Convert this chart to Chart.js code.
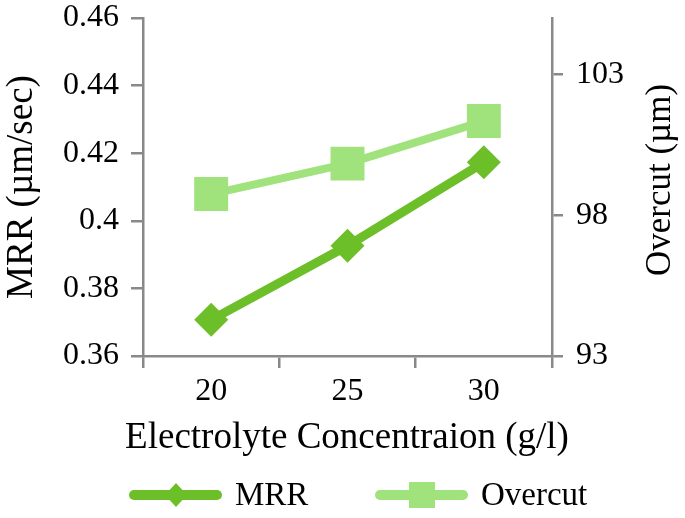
<!DOCTYPE html>
<html>
<head>
<meta charset="utf-8">
<script src="https://cdn.jsdelivr.net/npm/chart.js@4.4.0/dist/chart.umd.min.js"></script>
<style>
  html, body { margin: 0; padding: 0; background: #fff; }
  #wrap { width: 685px; height: 518px; }
</style>
</head>
<body>
<div id="wrap"><canvas id="myChart" width="685" height="518"></canvas></div>
<script>
// data
const concentration = ['20', '25', '30'];
const mrr = [0.3707, 0.3926, 0.4173];
const overcut = [98.75, 99.83, 101.34];
const mrrTicks = [0.36, 0.38, 0.40, 0.42, 0.44, 0.46];
const overcutTicks = [93, 98, 103];

const serif = '"Liberation Serif", "Times New Roman", serif';
const axisColor = '#898989';
const mrrColor = '#6cbf29';
const overcutColor = '#a0e27b';

// legend drawn by hand: line + marker + label, like the original.
// x title and right title also drawn here: the x title is wider than the
// plot area (Chart.js would squeeze it) and the right one reads bottom-to-top
const lineLegend = {
  id: 'lineLegend',
  afterDraw(chart) {
    const ctx = chart.ctx;
    const y = 495;
    const starts = [129, 375];
    chart.data.datasets.forEach((ds, i) => {
      const x0 = starts[i];
      const cx = x0 + 47;
      ctx.save();
      ctx.strokeStyle = ds.borderColor;
      ctx.lineWidth = 10;
      ctx.lineCap = 'round';
      ctx.beginPath();
      ctx.moveTo(x0 + 5, y);
      ctx.lineTo(x0 + 88, y);
      ctx.stroke();

      ctx.fillStyle = ds.pointBackgroundColor;
      ctx.beginPath();
      if (ds.pointStyle === 'rectRot') {
        ctx.moveTo(cx - 11, y);
        ctx.lineTo(cx, y - 12);
        ctx.lineTo(cx + 11, y);
        ctx.lineTo(cx, y + 12);
        ctx.closePath();
      } else {
        ctx.rect(cx - 13, y - 13, 26, 26);
      }
      ctx.fill();

      ctx.fillStyle = '#000';
      ctx.font = '33px ' + serif;
      ctx.textBaseline = 'middle';
      ctx.fillText(ds.label, x0 + 106, y + 1);
      ctx.restore();
    });

    ctx.save();
    ctx.fillStyle = '#000';
    ctx.textAlign = 'center';
    ctx.textBaseline = 'middle';
    ctx.font = '37px ' + serif;
    ctx.fillText('Electrolyte Concentraion (g/l)', 347, 438);
    ctx.translate(661, 180);
    ctx.rotate(-Math.PI / 2);
    ctx.font = '35px ' + serif;
    ctx.fillText('Overcut (µm)', 0, 0);
    ctx.restore();
  }
};

const noPad = scale => {
  scale.paddingTop = 0;
  scale.paddingBottom = 0;
  scale.paddingLeft = 0;
  scale.paddingRight = 0;
};

const ctx = document.getElementById('myChart').getContext('2d');
new Chart(ctx, {
  type: 'line',
  data: {
    labels: concentration,
    datasets: [
      {
        label: 'MRR',
        data: mrr,
        yAxisID: 'y',
        borderColor: mrrColor,
        backgroundColor: mrrColor,
        pointBackgroundColor: mrrColor,
        borderWidth: 9,
        pointStyle: 'rectRot',
        pointRadius: 17,
        pointBorderWidth: 0,
        fill: false,
        tension: 0,
        order: 1
      },
      {
        label: 'Overcut',
        data: overcut,
        yAxisID: 'y1',
        borderColor: overcutColor,
        backgroundColor: overcutColor,
        pointBackgroundColor: overcutColor,
        borderWidth: 8,
        pointStyle: 'rect',
        pointRadius: 24,
        pointBorderWidth: 0,
        fill: false,
        tension: 0,
        order: 2
      }
    ]
  },
  options: {
    responsive: false,
    animation: false,
    devicePixelRatio: 1,
    layout: { autoPadding: false, padding: { top: 18, bottom: 59, left: 0, right: 0 } },
    plugins: {
      legend: { display: false },
      tooltip: { enabled: false }
    },
    scales: {
      x: {
        type: 'category',
        offset: true,
        grid: {
          offset: true,
          drawOnChartArea: false,
          drawTicks: true,
          tickLength: 12,
          color: axisColor,
          lineWidth: 2.5
        },
        border: { display: true, color: axisColor, width: 2.5 },
        ticks: { color: '#000', font: { family: serif, size: 32 }, padding: 4, maxRotation: 0 },
        title: { display: false },
        afterFit(scale) { scale.height = 103; noPad(scale); }
      },
      y: {
        position: 'left',
        min: 0.36,
        max: 0.46,
        afterBuildTicks(scale) { scale.ticks = mrrTicks.map(v => ({ value: v })); },
        grid: { drawOnChartArea: false, tickLength: 12, color: axisColor, lineWidth: 2.5 },
        border: { display: true, color: axisColor, width: 2.5 },
        ticks: {
          color: '#000',
          font: { family: serif, size: 32, lineHeight: 1 },
          padding: 12,
          callback: v => String(+(+v).toFixed(2))
        },
        title: {
          display: true,
          text: 'MRR (µm/sec)',
          color: '#000',
          font: { family: serif, size: 37 },
          padding: 0
        },
        afterFit(scale) { scale.width = 143; noPad(scale); }
      },
      y1: {
        position: 'right',
        min: 93,
        max: 105,
        afterBuildTicks(scale) { scale.ticks = overcutTicks.map(v => ({ value: v })); },
        grid: { drawOnChartArea: false, tickLength: 11, color: axisColor, lineWidth: 2.5 },
        border: { display: true, color: axisColor, width: 2.5 },
        ticks: {
          color: '#000',
          font: { family: serif, size: 32, lineHeight: 1 },
          padding: 13
        },
        title: { display: false },
        afterFit(scale) { scale.width = 133; noPad(scale); }
      }
    }
  },
  plugins: [lineLegend]
});
</script>
</body>
</html>
